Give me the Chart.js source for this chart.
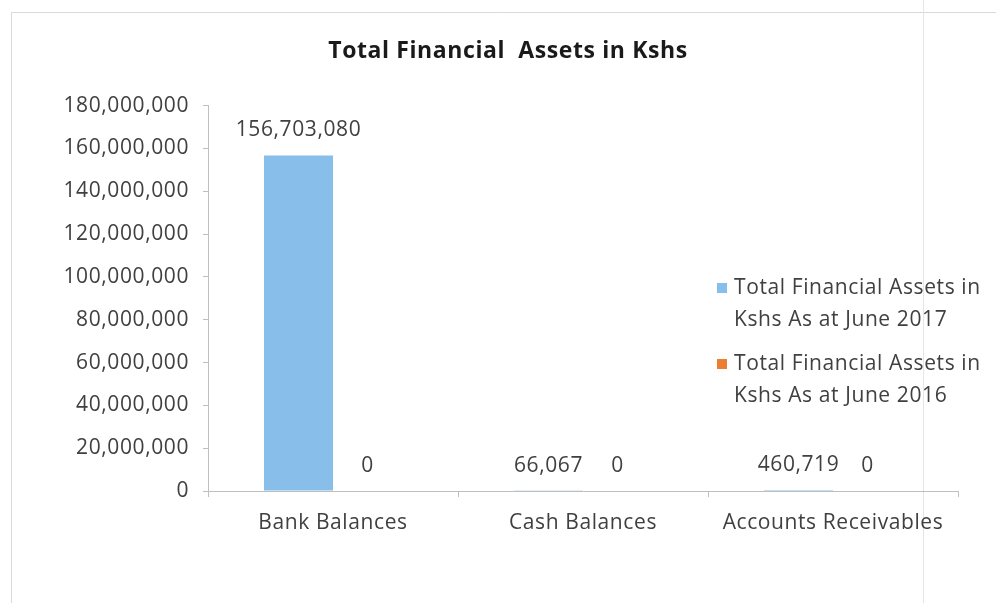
<!DOCTYPE html>
<html lang="en">
<head>
  <meta charset="UTF-8" />
  <title>Total Financial Assets in Kshs</title>
  <script src="https://cdn.jsdelivr.net/npm/chart.js"></script>
  <style>
    html, body { margin: 0; padding: 0; background: #fff; }
    #wrap { position: relative; width: 996px; height: 603px; }
  </style>
</head>
<body>
  <div id="wrap">
    <canvas id="chart" width="996" height="603"></canvas>
  </div>

  <script>
    // data
    const categories = ["Bank Balances", "Cash Balances", "Accounts Receivables"];
    const assets2017 = [156703080, 66067, 460719];
    const assets2016 = [0, 0, 0];
    const seriesNames = [
      ["Total Financial Assets in", "Kshs As at June 2017"],
      ["Total Financial Assets in", "Kshs As at June 2016"]
    ];
    const yMax = 180000000;
    const yStep = 20000000;

    const FONT = "'Open Sans', sans-serif";
    const TEXT = "#404040";
    const blue = "#88BEEA";
    const orange = "#ED7D31";
    const SPACING = "0.6px"; // the scan is a bit wider than Open Sans

    const fmt = v => Number(v).toLocaleString("en-US");

    // frame of the scanned chart box + a touch of letter spacing
    const framePlugin = {
      id: "frame",
      beforeInit(chart) { chart.ctx.letterSpacing = SPACING; },
      beforeDraw(chart) {
        const ctx = chart.ctx;
        ctx.letterSpacing = SPACING;
        ctx.save();
        ctx.strokeStyle = "#d9d9d9";
        ctx.lineWidth = 1;
        ctx.beginPath();
        ctx.moveTo(11.5, 603); ctx.lineTo(11.5, 12.5); ctx.lineTo(996, 12.5);
        ctx.stroke();
        ctx.strokeStyle = "#e4e4ec";
        ctx.beginPath();
        ctx.moveTo(923.5, 0); ctx.lineTo(923.5, 603);
        ctx.stroke();
        ctx.restore();
      }
    };

    // value labels above every bar
    const valueLabels = {
      id: "valueLabels",
      afterDatasetsDraw(chart) {
        const ctx = chart.ctx;
        ctx.save();
        ctx.font = "21px " + FONT;
        ctx.fillStyle = TEXT;
        ctx.textAlign = "center";
        ctx.textBaseline = "middle";
        chart.data.datasets.forEach((ds, i) => {
          chart.getDatasetMeta(i).data.forEach((bar, j) => {
            ctx.fillText(fmt(ds.data[j]), bar.x, bar.y - 25);
          });
        });
        ctx.restore();
      }
    };

    // legend sitting over the right part of the plot, two lines per entry
    const sideLegend = {
      id: "sideLegend",
      afterDraw(chart) {
        const ctx = chart.ctx;
        const colors = chart.data.datasets.map(d => d.backgroundColor);
        ctx.save();
        ctx.font = "21px " + FONT;
        ctx.textAlign = "left";
        ctx.textBaseline = "middle";
        let y = 288;
        seriesNames.forEach((lines, i) => {
          ctx.fillStyle = colors[i];
          ctx.fillRect(717, y - 5, 10, 10);
          ctx.fillStyle = TEXT;
          lines.forEach((t, k) => ctx.fillText(t, 734, y + k * 32));
          y += 76;
        });
        ctx.restore();
      }
    };

    new Chart(document.getElementById("chart"), {
      type: "bar",
      data: {
        labels: categories,
        datasets: [
          { label: seriesNames[0].join(" "), data: assets2017, backgroundColor: blue },
          { label: seriesNames[1].join(" "), data: assets2016, backgroundColor: orange }
        ]
      },
      options: {
        responsive: false,
        animation: false,
        layout: { padding: { top: 0, right: 38, bottom: 0, left: 58 } },
        datasets: { bar: { categoryPercentage: 0.552, barPercentage: 1 } },
        plugins: {
          legend: { display: false },
          tooltip: { enabled: false },
          title: {
            display: true,
            text: "Total Financial  Assets in Kshs",
            color: "#1a1a1a",
            font: { family: FONT, size: 23, weight: "bold" },
            padding: { top: 38, bottom: 40 }
          }
        },
        scales: {
          x: {
            grid: { drawOnChartArea: false, drawTicks: true, tickLength: 6, color: "#bfbfbf" },
            border: { color: "#bfbfbf" },
            ticks: { color: TEXT, font: { family: FONT, size: 21 }, padding: 13 },
            afterFit(scale) { scale.height = 112; }
          },
          y: {
            min: 0,
            max: yMax,
            grid: { drawOnChartArea: false, drawTicks: true, tickLength: 5, color: "#bfbfbf" },
            border: { color: "#bfbfbf" },
            ticks: {
              stepSize: yStep,
              color: TEXT,
              font: { family: FONT, size: 21 },
              padding: 14,
              callback: v => fmt(v)
            },
            afterFit(scale) { scale.width = 150; }
          }
        }
      },
      plugins: [framePlugin, valueLabels, sideLegend]
    });
  </script>
</body>
</html>
